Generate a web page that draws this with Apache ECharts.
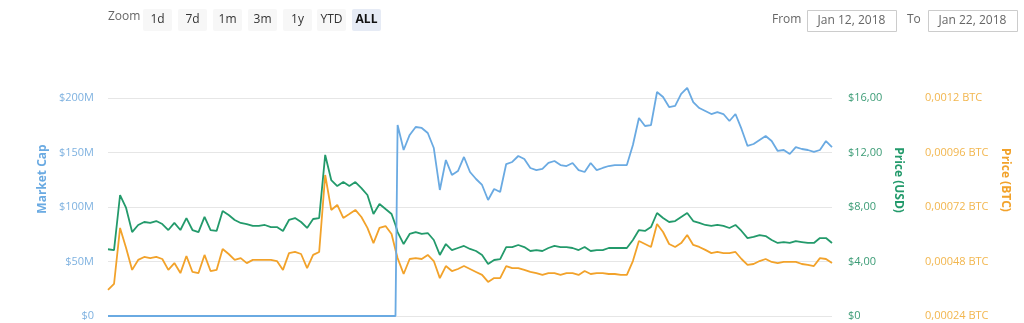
<!DOCTYPE html>
<html>
<head>
<meta charset="utf-8">
<script src="https://cdn.jsdelivr.net/npm/echarts@6/dist/echarts.min.js"></script>
<style>
html,body{margin:0;padding:0;background:#fff;}
#chart{width:1024px;height:323px;}
</style>
</head>
<body>
<div id="chart"></div>
<script>
// ---- sample times: hours after Jan 12, 2018 00:00 (2-hour samples, plus the listing moment) ----
const startUtc = Date.UTC(2018, 0, 12);
const sampleHours = [];
for (let h = 0; h <= 94; h += 2) sampleHours.push(h);
sampleHours.push(95.3);
for (let h = 96; h <= 240; h += 2) sampleHours.push(h);

// ---- Market Cap (millions of USD) ----
const marketCapM = [
  0,0,0,0,0,0,0,0,0,0, 0,0,0,0,0,0,0,0,0,0,
  0,0,0,0,0,0,0,0,0,0, 0,0,0,0,0,0,0,0,0,0,
  0,0,0,0,0,0,0,0, 0,
  175.2,152.3,166.1,173.4,172.5,167.9,154.1,115.6,143.1,129.4,
  133.0,145.9,132.1,125.7,120.2,106.4,116.5,113.8,139.4,141.3,
  146.8,144.0,135.8,133.9,134.9,140.4,142.2,138.5,137.6,140.4,
  133.9,132.1,140.4,133.9,135.8,137.6,138.5,138.5,138.5,156.9,
  181.6,174.3,175.2,205.5,200.9,191.7,192.7,203.7,209.2,196.3,
  190.8,188.1,185.3,187.1,185.3,178.9,185.3,171.6,156.0,157.8,
  161.5,165.1,160.5,151.4,152.3,148.6,155.0,153.2,152.3,150.5,
  152.3,160.5,155.0
];

// ---- Price (USD) ----
const priceUsd = [
  4.90,4.84,8.88,7.93,6.16,6.68,6.90,6.83,6.97,6.75,
  6.31,6.83,6.31,7.19,6.31,6.16,7.27,6.31,6.24,7.71,
  7.41,7.05,6.83,6.75,6.61,6.61,6.68,6.53,6.53,6.24,
  7.05,7.19,6.90,6.46,7.12,7.19,11.82,9.98,9.54,9.83,
  9.54,9.83,9.39,8.88,7.49,8.22,7.85,7.49, 6.68,
  6.16,5.28,6.02,6.16,6.02,6.09,5.58,4.48,5.28,4.84,
  4.99,5.14,4.92,4.77,4.48,3.82,4.11,4.18,5.06,5.06,
  5.21,5.06,4.77,4.84,4.77,4.99,5.14,5.06,5.06,4.99,
  4.84,5.06,4.77,4.84,4.84,4.99,4.99,4.99,4.99,5.58,
  6.31,6.24,6.53,7.56,7.19,6.90,6.97,7.27,7.56,6.97,
  6.83,6.68,6.61,6.68,6.61,6.46,6.68,6.24,5.72,5.80,
  5.94,5.87,5.58,5.36,5.43,5.36,5.50,5.43,5.36,5.36,
  5.72,5.72,5.36
];

// ---- Price (BTC) ----
const priceBtc = [
  0.000355,0.000381,0.000628,0.000539,0.000443,0.000487,0.000500,0.000495,0.000500,0.000491,
  0.000443,0.000473,0.000429,0.000504,0.000434,0.000429,0.000509,0.000438,0.000443,0.000535,
  0.000513,0.000487,0.000495,0.000473,0.000487,0.000487,0.000487,0.000487,0.000482,0.000443,
  0.000517,0.000522,0.000513,0.000451,0.000509,0.000522,0.000861,0.000707,0.000729,0.000672,
  0.000689,0.000707,0.000676,0.000628,0.000561,0.000628,0.000636,0.000601, 0.000531,
  0.000495,0.000425,0.000491,0.000495,0.000491,0.000509,0.000482,0.000407,0.000460,0.000438,
  0.000447,0.000460,0.000447,0.000434,0.000421,0.000390,0.000407,0.000407,0.000460,0.000451,
  0.000451,0.000443,0.000434,0.000429,0.000421,0.000429,0.000429,0.000421,0.000429,0.000429,
  0.000421,0.000438,0.000425,0.000429,0.000429,0.000425,0.000425,0.000421,0.000421,0.000482,
  0.000570,0.000557,0.000544,0.000645,0.000610,0.000557,0.000544,0.000561,0.000597,0.000553,
  0.000544,0.000531,0.000517,0.000522,0.000517,0.000517,0.000522,0.000491,0.000465,0.000469,
  0.000482,0.000491,0.000478,0.000473,0.000478,0.000478,0.000478,0.000469,0.000465,0.000460,
  0.000495,0.000491,0.000473
];

const zoomButtons = ['1d','7d','1m','3m','1y','YTD','ALL'];
const fromDate = 'Jan 12, 2018';
const toDate = 'Jan 22, 2018';

const COL_BLUE = '#6aaae2';
const COL_GREEN = '#239a6b';
const COL_ORANGE = '#f2a22a';
const FONT = '"Open Sans", "DejaVu Sans", sans-serif';

const toPairs = vals => vals.map((v, i) => [startUtc + sampleHours[i] * 3600e3, v]);

const graphics = [];
graphics.push({type:'text', left:108, top:11, style:{text:'Zoom', fill:'#666', font:'12px ' + FONT}});
zoomButtons.forEach((b, i) => {
  const x = [143,178,213,248,283,317,352][i];
  const sel = b === 'ALL';
  graphics.push({type:'rect', shape:{x:x, y:9, width:29, height:22, r:2},
    style:{fill: sel ? '#e6ebf5' : '#f7f7f7'}});
  graphics.push({type:'text', x:x + 14.5, y:20,
    style:{text:b, fill: sel ? '#111' : '#333', font:(sel ? 'bold ' : '') + '12px ' + FONT,
      textAlign:'center', textVerticalAlign:'middle'}});
});
graphics.push({type:'text', x:772, y:20, style:{text:'From', fill:'#666', font:'12px ' + FONT, textVerticalAlign:'middle'}});
graphics.push({type:'rect', shape:{x:807.5, y:10.5, width:89, height:21}, style:{fill:'#fff', stroke:'#ccc', lineWidth:1}});
graphics.push({type:'text', x:851.5, y:21, style:{text:fromDate, fill:'#666', font:'12px ' + FONT, textAlign:'center', textVerticalAlign:'middle'}});
graphics.push({type:'text', x:907, y:20, style:{text:'To', fill:'#666', font:'12px ' + FONT, textVerticalAlign:'middle'}});
graphics.push({type:'rect', shape:{x:928.5, y:10.5, width:89, height:21}, style:{fill:'#fff', stroke:'#ccc', lineWidth:1}});
graphics.push({type:'text', x:972.5, y:21, style:{text:toDate, fill:'#666', font:'12px ' + FONT, textAlign:'center', textVerticalAlign:'middle'}});
// axis titles
graphics.push({type:'text', x:43, y:179, rotation:Math.PI/2,
  style:{text:'Market Cap', fill:COL_BLUE, font:'bold 12px ' + FONT, textAlign:'center', textVerticalAlign:'middle'}});
graphics.push({type:'text', x:898.5, y:180, rotation:-Math.PI/2,
  style:{text:'Price (USD)', fill:COL_GREEN, font:'bold 12px ' + FONT, textAlign:'center', textVerticalAlign:'middle'}});
graphics.push({type:'text', x:1005.5, y:180, rotation:-Math.PI/2,
  style:{text:'Price (BTC)', fill:COL_ORANGE, font:'bold 12px ' + FONT, textAlign:'center', textVerticalAlign:'middle'}});

const chart = echarts.init(document.getElementById('chart'), null, {renderer:'canvas'});
chart.setOption({
  animation:false,
  backgroundColor:'#fff',
  grid:{left:108, right:192, top:98, bottom:7},
  xAxis:{type:'time', min:startUtc, max:startUtc + 240 * 3600e3, show:false},
  yAxis:[
    {type:'value', min:0, max:200, interval:50, position:'left',
      axisLine:{show:false}, axisTick:{show:false},
      splitLine:{lineStyle:{color:'#e6e6e6', width:1}},
      axisLabel:{color:'#7fb2e0', fontSize:11, fontFamily:FONT, margin:14, padding:[0,0,9,0],
        formatter: v => v === 0 ? '$0' : '$' + v + 'M'}},
    {type:'value', min:0, max:16, interval:4, position:'right',
      axisLine:{show:false}, axisTick:{show:false}, splitLine:{show:false},
      axisLabel:{color:'#3c9c76', fontSize:11, fontFamily:FONT, margin:16, padding:[0,0,9,0],
        formatter: v => v === 0 ? '$0' : '$' + v.toFixed(2).replace('.', ',')}},
    {type:'value', min:0.00024, max:0.0012, interval:0.00024, position:'right', offset:77,
      axisLine:{show:false}, axisTick:{show:false}, splitLine:{show:false},
      axisLabel:{color:'#f2b64e', fontSize:11, fontFamily:FONT, margin:16, padding:[0,0,9,0],
        formatter: v => parseFloat(v.toPrecision(4)).toString().replace('.', ',') + ' BTC'}}
  ],
  series:[
    {name:'Market Cap', type:'line', yAxisIndex:0, data:toPairs(marketCapM), showSymbol:false, clip:false,
      lineStyle:{color:COL_BLUE, width:1.8}, itemStyle:{color:COL_BLUE}, z:3},
    {name:'Price (USD)', type:'line', yAxisIndex:1, data:toPairs(priceUsd), showSymbol:false, clip:false,
      lineStyle:{color:COL_GREEN, width:1.8}, itemStyle:{color:COL_GREEN}, z:2},
    {name:'Price (BTC)', type:'line', yAxisIndex:2, data:toPairs(priceBtc), showSymbol:false, clip:false,
      lineStyle:{color:COL_ORANGE, width:1.8}, itemStyle:{color:COL_ORANGE}, z:1}
  ],
  graphic: graphics
});
</script>
</body>
</html>
